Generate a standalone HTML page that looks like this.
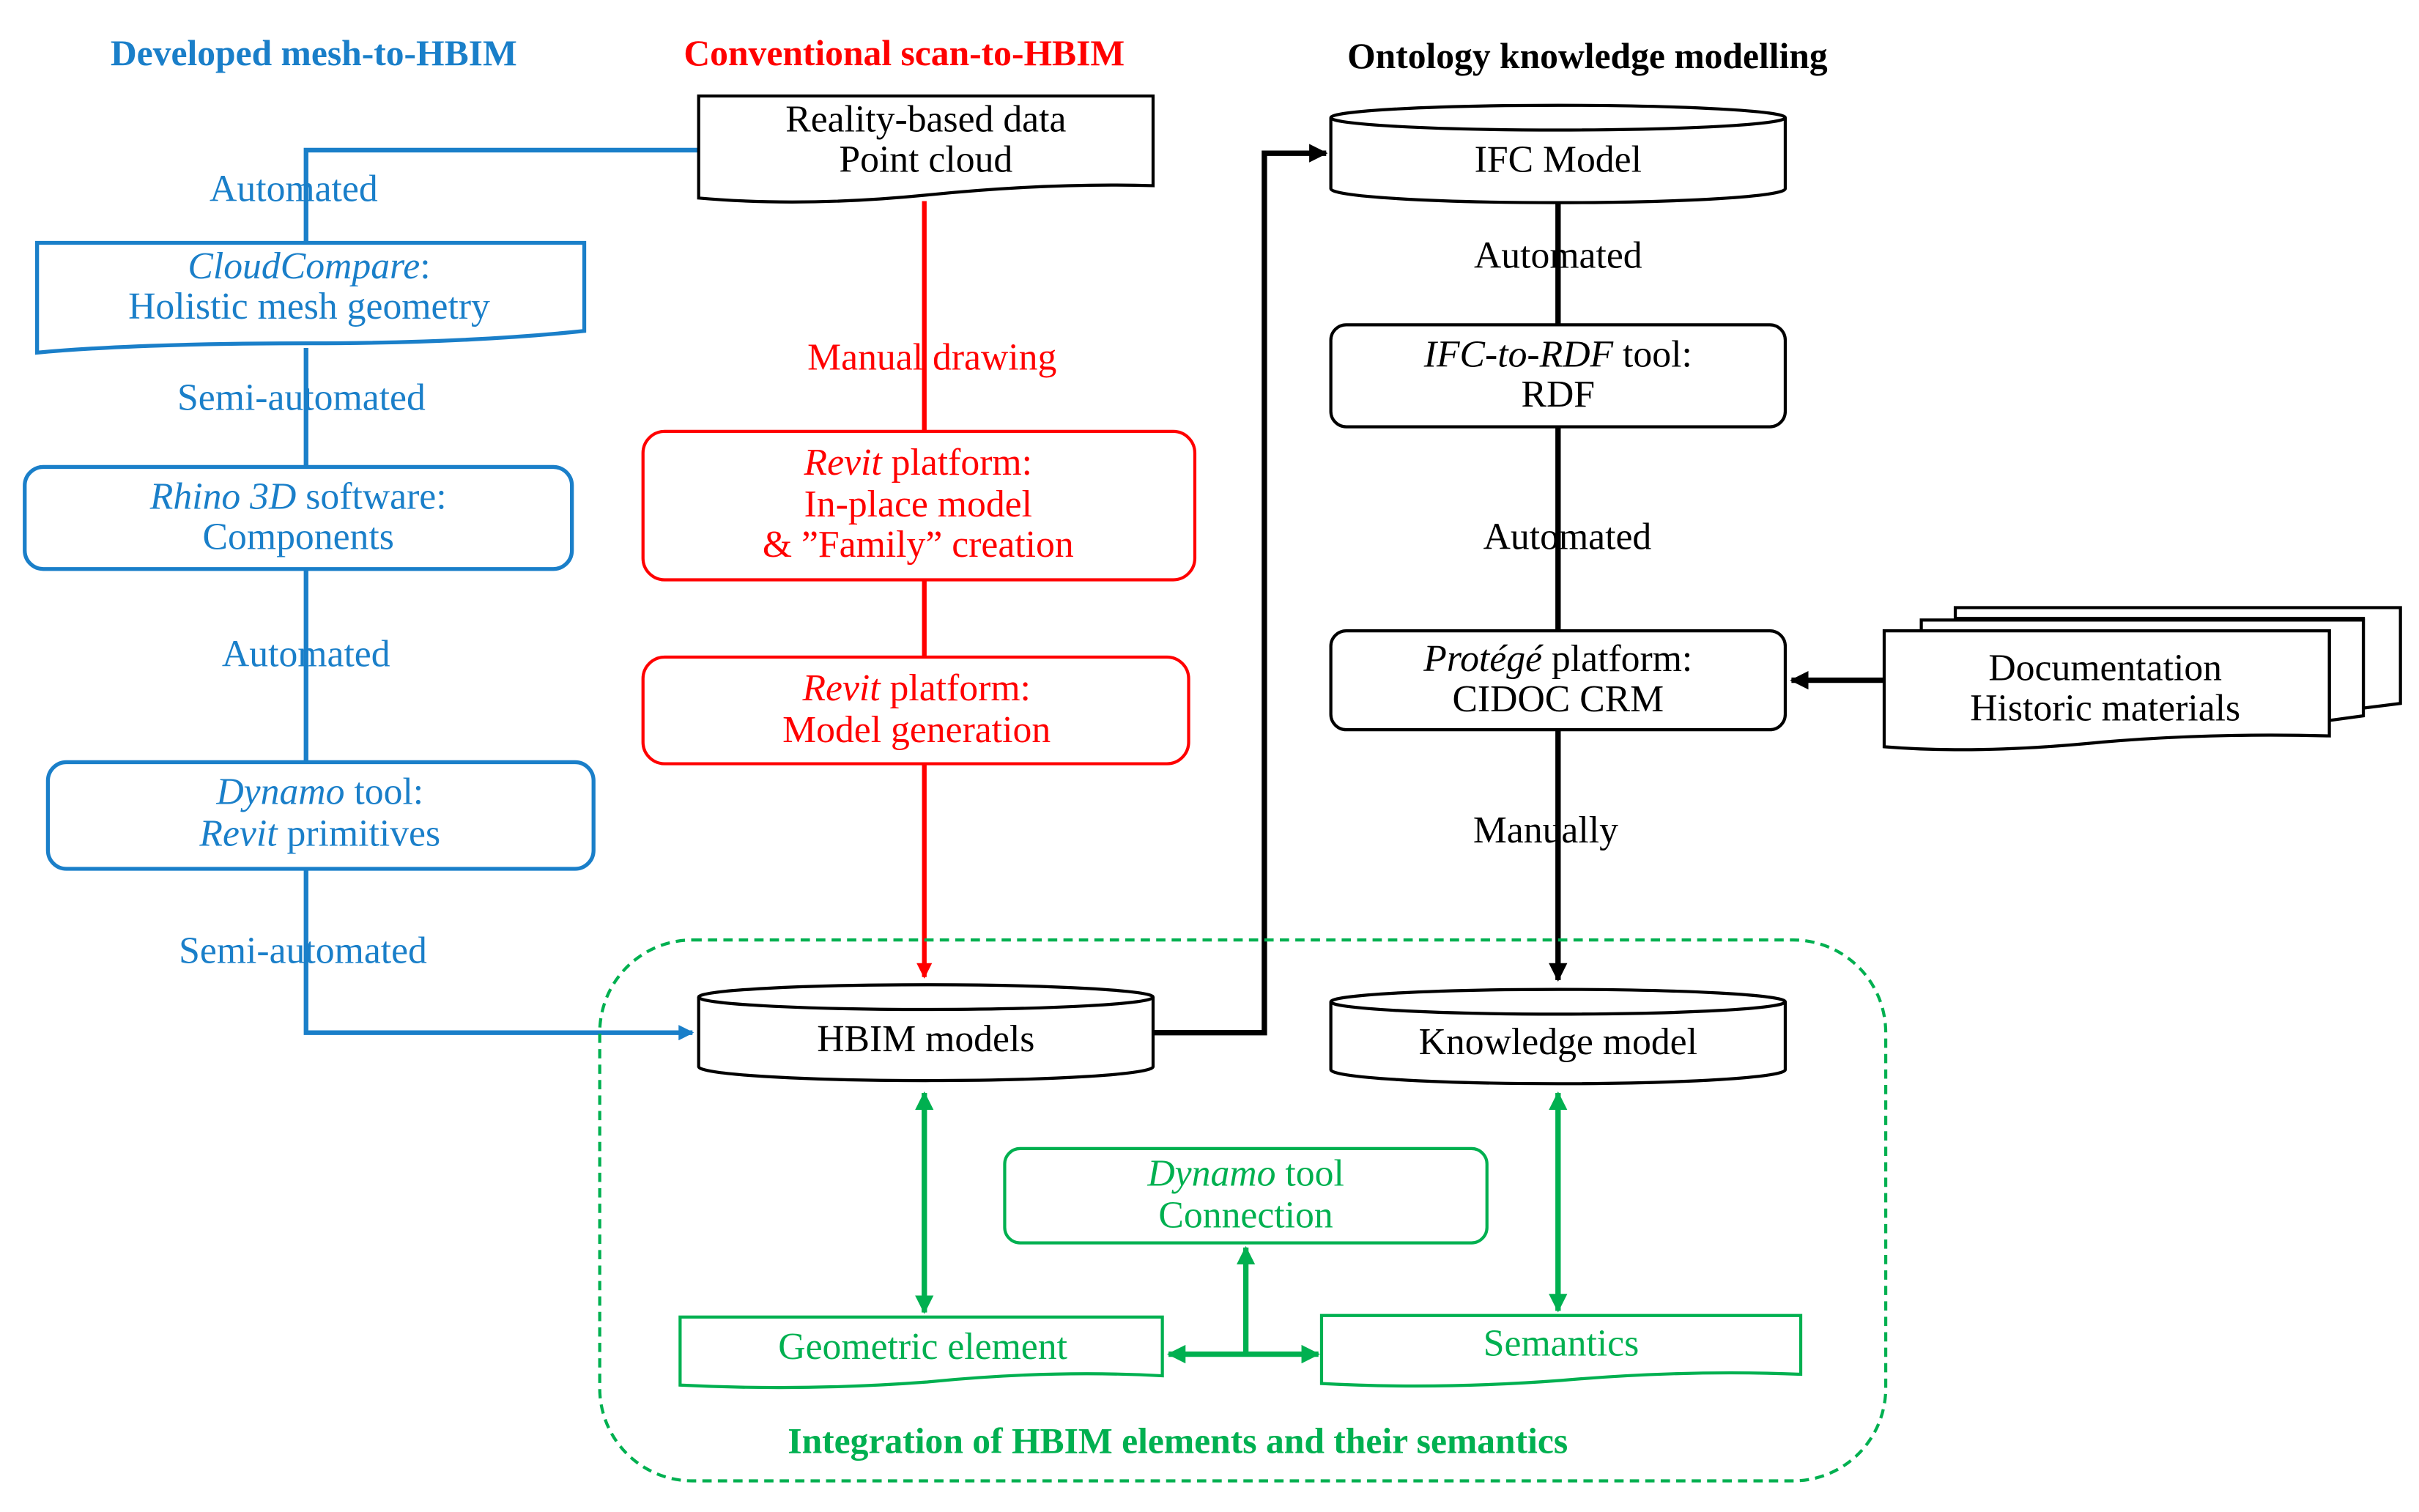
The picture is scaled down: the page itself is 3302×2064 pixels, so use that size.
<!DOCTYPE html>
<html><head><meta charset="utf-8"><style>html,body{margin:0;padding:0;background:#fff}svg{display:block}</style></head>
<body>
<svg width="3302" height="2064" viewBox="0 0 1565 978" xmlns="http://www.w3.org/2000/svg" font-family="Liberation Serif, serif" font-size="24.5" text-anchor="middle">
<defs>
<marker id="ab" markerWidth="10" markerHeight="10" refX="9" refY="5" orient="auto" markerUnits="userSpaceOnUse"><path d="M0,0 L10,5 L0,10 z" fill="#1a7fc9"/></marker>
<marker id="ar" markerWidth="10" markerHeight="10" refX="9" refY="5" orient="auto" markerUnits="userSpaceOnUse"><path d="M0,0 L10,5 L0,10 z" fill="#f00"/></marker>
<marker id="ak" markerWidth="12" markerHeight="12" refX="11" refY="6" orient="auto" markerUnits="userSpaceOnUse"><path d="M0,0 L12,6 L0,12 z" fill="#000"/></marker>
<marker id="ag" markerWidth="12" markerHeight="12" refX="11" refY="6" orient="auto-start-reverse" markerUnits="userSpaceOnUse"><path d="M0,0 L12,6 L0,12 z" fill="#00b050"/></marker>
</defs>
<g font-weight="bold" font-size="23.5">
<text x="203" y="42" fill="#1a7fc9">Developed mesh-to-HBIM</text>
<text x="585" y="42" fill="#f00">Conventional scan-to-HBIM</text>
<text x="1027" y="44" fill="#000">Ontology knowledge modelling</text>
</g>
<g stroke="#1a7fc9" stroke-width="3" fill="none">
<polyline points="455,97 198,97 198,157"/>
<line x1="198" y1="225" x2="198" y2="302"/>
<line x1="198" y1="368" x2="198" y2="493"/>
<polyline points="198,562 198,668 448,668" marker-end="url(#ab)"/>
</g>
<g fill="#fff" stroke="#1a7fc9" stroke-width="2.5">
<path d="M24,157 H378 V214 Q300,222 200,222 Q90,222 24,228 Z"/>
<rect x="16" y="302" width="354" height="66" rx="12"/>
<rect x="31" y="493" width="353" height="69" rx="12"/>
</g>
<g fill="#1a7fc9">
<text x="190" y="130">Automated</text>
<text x="195" y="265">Semi-automated</text>
<text x="198" y="431">Automated</text>
<text x="196" y="623">Semi-automated</text>
<text x="200" y="180"><tspan font-style="italic">CloudCompare</tspan>:</text>
<text x="200" y="206">Holistic mesh geometry</text>
<text x="193" y="329"><tspan font-style="italic">Rhino 3D</tspan> software:</text>
<text x="193" y="355">Components</text>
<text x="207" y="520"><tspan font-style="italic">Dynamo</tspan> tool:</text>
<text x="207" y="547"><tspan font-style="italic">Revit</tspan> primitives</text>
</g>
<g stroke="#f00" stroke-width="3" fill="none">
<line x1="598" y1="130" x2="598" y2="279"/>
<line x1="598" y1="375" x2="598" y2="425"/>
<line x1="598" y1="494" x2="598" y2="632" marker-end="url(#ar)"/>
</g>
<text x="603" y="239" fill="#f00">Manual drawing</text>
<g fill="#fff" stroke="#f00" stroke-width="2">
<rect x="416" y="279" width="357" height="96" rx="14"/>
<rect x="416" y="425" width="353" height="69" rx="14"/>
</g>
<g fill="#f00">
<text x="594" y="307"><tspan font-style="italic">Revit</tspan> platform:</text>
<text x="594" y="334">In-place model</text>
<text x="594" y="360">&amp; ”Family” creation</text>
<text x="593" y="453"><tspan font-style="italic">Revit</tspan> platform:</text>
<text x="593" y="480">Model generation</text>
</g>
<path d="M452,62 H746 V120 Q680,118 600,126 Q520,134 452,128 Z" fill="#fff" stroke="#000" stroke-width="2"/>
<text x="599" y="85">Reality-based data</text>
<text x="599" y="111">Point cloud</text>
<g stroke="#000" stroke-width="3.5" fill="none">
<polyline points="746,668 818,668 818,99 858,99" marker-end="url(#ak)"/>
<line x1="1008" y1="130" x2="1008" y2="210"/>
<line x1="1008" y1="276" x2="1008" y2="408"/>
<line x1="1008" y1="472" x2="1008" y2="634" marker-end="url(#ak)"/>
<line x1="1219" y1="440" x2="1159" y2="440" marker-end="url(#ak)"/>
</g>
<g fill="#fff" stroke="#000" stroke-width="2">
<path d="M861,76 V122 A147,9 0 0 0 1155,122 V76"/>
<ellipse cx="1008" cy="76" rx="147" ry="8"/>
<path d="M452,645 V690 A147,9 0 0 0 746,690 V645"/>
<ellipse cx="599" cy="645" rx="147" ry="8"/>
<path d="M861,648 V692 A147,9 0 0 0 1155,692 V648"/>
<ellipse cx="1008" cy="648" rx="147" ry="8"/>
<rect x="861" y="210" width="294" height="66" rx="10"/>
<rect x="861" y="408" width="294" height="64" rx="10"/>
<path d="M1265,393 H1553 V455 L1529,458 V400 H1265 Z"/>
<path d="M1243,401 H1529 V463 L1507,466 V408 H1243 Z"/>
<path d="M1219,408 H1507 V476 Q1430,474 1360,480 Q1280,488 1219,483 Z"/>
</g>
<g fill="#000">
<text x="1008" y="111">IFC Model</text>
<text x="1008" y="173">Automated</text>
<text x="1008" y="237"><tspan font-style="italic">IFC-to-RDF</tspan> tool:</text>
<text x="1008" y="263">RDF</text>
<text x="1014" y="355">Automated</text>
<text x="1008" y="434"><tspan font-style="italic">Protégé</tspan> platform:</text>
<text x="1008" y="460">CIDOC CRM</text>
<text x="1000" y="545">Manually</text>
<text x="1362" y="440">Documentation</text>
<text x="1362" y="466">Historic materials</text>
<text x="599" y="680">HBIM models</text>
<text x="1008" y="682">Knowledge model</text>
</g>
<rect x="388" y="608" width="832" height="350" rx="60" fill="none" stroke="#00b050" stroke-width="2" stroke-dasharray="6,4"/>
<g fill="#fff" stroke="#00b050" stroke-width="2">
<rect x="650" y="743" width="312" height="61" rx="10"/>
<path d="M440,852 H752 V890 Q680,886 600,894 Q520,900 440,896 Z"/>
<path d="M855,851 H1165 V889 Q1090,886 1010,893 Q930,899 855,895 Z"/>
</g>
<g stroke="#00b050" stroke-width="3.5" fill="none">
<line x1="598" y1="707" x2="598" y2="849" marker-start="url(#ag)" marker-end="url(#ag)"/>
<line x1="1008" y1="707" x2="1008" y2="848" marker-start="url(#ag)" marker-end="url(#ag)"/>
<line x1="756" y1="876" x2="853" y2="876" marker-start="url(#ag)" marker-end="url(#ag)"/>
<line x1="806" y1="876" x2="806" y2="807" marker-end="url(#ag)"/>
</g>
<g fill="#00b050">
<text x="806" y="767"><tspan font-style="italic">Dynamo</tspan> tool</text>
<text x="806" y="794">Connection</text>
<text x="597" y="879">Geometric element</text>
<text x="1010" y="877">Semantics</text>
<text x="762" y="940" font-weight="bold" font-size="23.5">Integration of HBIM elements and their semantics</text>
</g>
</svg>
</body></html>
